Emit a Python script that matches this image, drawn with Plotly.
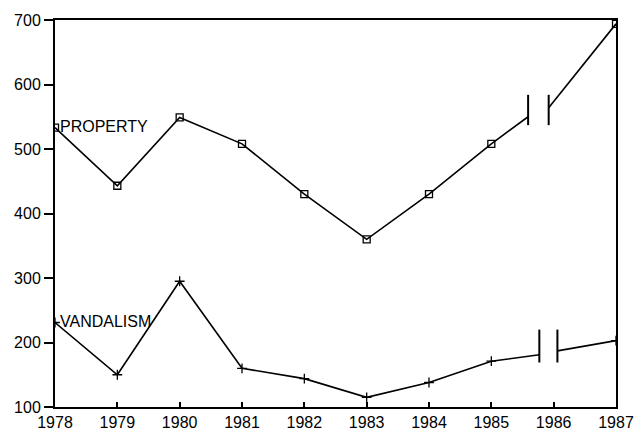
import plotly.graph_objects as go

years = [1978, 1979, 1980, 1981, 1982, 1983, 1984, 1985, 1987]
property_vals = [533, 443, 549, 508, 430, 360, 430, 508, 694]
vandalism_vals = [231, 150, 295, 160, 144, 115, 138, 171, 203]

# line ends either side of the axis break (1986 is not plotted)
property_break_x = [1985.59, 1985.92]
property_break_y = [550, 564]
vandalism_break_x = [1985.77, 1986.06]
vandalism_break_y = [181, 187]
# break bars (low, high)
property_bar_y = [537, 584]
vandalism_bar_y = [169, 220]

tick_years = [1978, 1979, 1980, 1981, 1982, 1983, 1984, 1985, 1986, 1987]
tick_vals = [100, 200, 300, 400, 500, 600, 700]

FONT = "Liberation Sans Narrow, Arial Narrow, Liberation Sans, Arial"

fig = go.Figure()

def add_series(vals, bx, by, bar, symbol, label):
    xa = years[:8] + [bx[0]]
    ya = vals[:8] + [by[0]]
    xb = [bx[1], years[8]]
    yb = [by[1], vals[8]]
    fig.add_trace(go.Scatter(x=xa + [None] + xb, y=ya + [None] + yb, mode="lines",
                             line=dict(color="black", width=1.6), showlegend=False, hoverinfo="skip"))
    fig.add_trace(go.Scatter(x=years, y=vals, mode="markers",
                             marker=dict(symbol=symbol, size=7, color="black",
                                         line=dict(color="black", width=1.3)),
                             showlegend=False))
    fig.add_trace(go.Scatter(x=[bx[0], bx[0], None, bx[1], bx[1]],
                             y=[bar[0], bar[1], None, bar[0], bar[1]], mode="lines",
                             line=dict(color="black", width=2), showlegend=False, hoverinfo="skip"))
    fig.add_annotation(x=years[0], y=vals[0], text=label, showarrow=False, xanchor="left",
                       xshift=3, yshift=1, font=dict(family=FONT, size=16, color="black"))

add_series(property_vals, property_break_x, property_break_y, property_bar_y, "square-open", "PROPERTY")
add_series(vandalism_vals, vandalism_break_x, vandalism_break_y, vandalism_bar_y, "cross-thin-open", "VANDALISM")

fig.update_layout(
    width=641, height=441,
    margin=dict(l=55, r=25, t=20, b=34, autoexpand=False),
    paper_bgcolor="white", plot_bgcolor="white",
    font=dict(family=FONT, size=16, color="black"),
    xaxis=dict(range=[1978, 1987], tickvals=tick_years, ticktext=[str(y) for y in tick_years],
               showgrid=False, zeroline=False, showline=True, linecolor="black", linewidth=2,
               mirror=True, ticks="inside", ticklen=5, tickcolor="black", tickwidth=1.5,
               automargin=False, tickfont=dict(family=FONT, size=16)),
    yaxis=dict(range=[100, 700], tickvals=tick_vals, showgrid=False, zeroline=False,
               showline=True, linecolor="black", linewidth=2, mirror=True,
               ticks="outside", ticklen=9, tickcolor="black", tickwidth=1.5,
               automargin=False, tickfont=dict(family=FONT, size=16)),
)

fig.write_html("out.html", config={"displayModeBar": False},
               post_script="document.body.style.margin='0';")
